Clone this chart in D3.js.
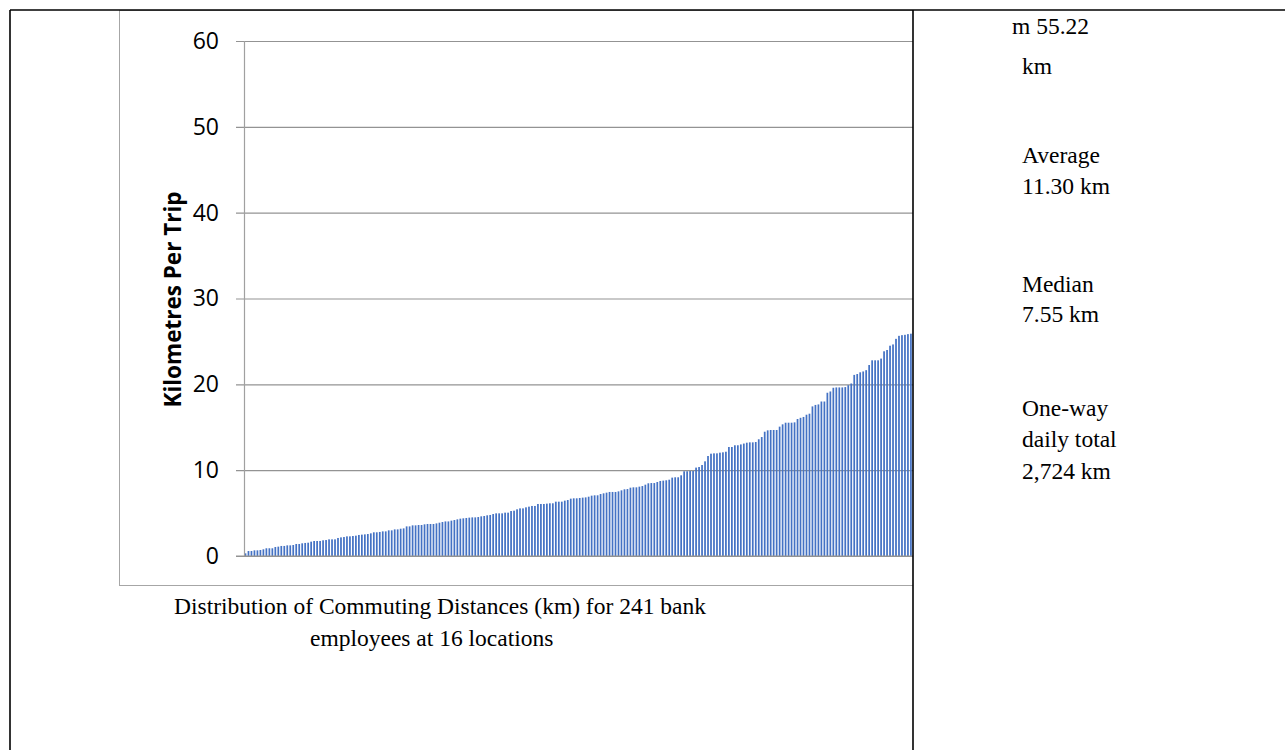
<!DOCTYPE html>
<html>
<head>
<meta charset="utf-8">
<script src="https://cdn.jsdelivr.net/npm/d3@7"></script>
<style>
  html, body { margin: 0; padding: 0; background: #fff; }
  svg { display: block; }
</style>
</head>
<body>
<svg id="fig" width="1285" height="750"></svg>
<script>
// One-way commuting distance (km) of each employee, sorted ascending.
const distances = [
  0.31, 0.58, 0.58, 0.66, 0.66, 0.70, 0.78, 0.90, 0.90, 0.90,
  1.05, 1.09, 1.17, 1.17, 1.24, 1.24, 1.28, 1.40, 1.40, 1.48,
  1.52, 1.55, 1.67, 1.75, 1.75, 1.75, 1.83, 1.86, 1.94, 1.94,
  1.94, 2.10, 2.17, 2.21, 2.29, 2.29, 2.33, 2.37, 2.45, 2.49,
  2.52, 2.56, 2.64, 2.76, 2.76,
  2.80, 2.87, 2.87, 2.99, 2.99, 3.10, 3.10, 3.18, 3.22, 3.45,
  3.45, 3.57, 3.57, 3.61, 3.61, 3.69, 3.73, 3.73, 3.73, 3.80,
  3.88, 3.96, 4.03, 4.03, 4.12, 4.19, 4.27, 4.35, 4.39, 4.43,
  4.47, 4.50, 4.50, 4.54, 4.62, 4.66, 4.74, 4.78, 4.89, 4.97,
  4.97, 4.97, 5.05, 5.05, 5.24, 5.28,
  5.44, 5.55, 5.55, 5.67, 5.75, 5.83, 5.83, 6.06, 6.06, 6.06,
  6.10, 6.14, 6.14, 6.33, 6.33, 6.33, 6.45, 6.52, 6.68, 6.72,
  6.72, 6.76, 6.80, 6.83, 6.91, 7.03, 7.07, 7.07, 7.22, 7.30,
  7.38, 7.46, 7.46, 7.46, 7.53, 7.65, 7.77, 7.80, 7.96, 8.00,
  8.00, 8.08, 8.15, 8.31, 8.47,
  8.50, 8.50, 8.62, 8.74, 8.78, 8.82, 8.89, 9.13, 9.17, 9.17,
  9.40, 9.87, 9.87, 9.90, 9.90, 10.30, 10.37, 10.60, 11.03, 11.65,
  11.92, 11.96, 11.96, 12.04, 12.08, 12.15, 12.70, 12.70, 12.90, 12.90,
  13.00, 13.10, 13.20, 13.24, 13.24, 13.28, 13.60, 13.86, 14.48, 14.64,
  14.68, 14.68, 14.68, 15.07, 15.34, 15.53,
  15.53, 15.53, 15.57, 15.96, 16.10, 16.20, 16.46, 16.58, 17.43, 17.60,
  17.66, 18.00, 18.00, 19.02, 19.17, 19.60, 19.64, 19.64, 19.64, 19.68,
  19.90, 20.10, 21.10, 21.20, 21.40, 21.50, 21.65, 22.25, 22.80, 22.80,
  22.80, 23.00, 23.85, 24.00, 24.50, 24.65, 25.30, 25.65, 25.73, 25.77,
  25.85, 25.90,
  26.40, 27.10, 27.90, 28.60, 29.50, 30.30, 31.20, 32.40, 33.80, 35.00,
  36.50, 38.20, 40.10, 42.70, 45.30, 49.80, 55.22
];

const yTicks = [0, 10, 20, 30, 40, 50, 60];
const yTitle = "Kilometres Per Trip";
const captionLines = [
  "Distribution of Commuting Distances (km) for 241 bank",
  "employees at 16 locations"
];
// Summary notes in the side column: [text, x, baseline y]
const sideNotes = [
  ["m 55.22", 1012, 34],
  ["km", 1022, 74],
  ["Average", 1022, 163],
  ["11.30 km", 1022, 194],
  ["Median", 1022, 292],
  ["7.55 km", 1022, 322],
  ["One-way", 1022, 416],
  ["daily total", 1022, 447],
  ["2,724 km", 1022, 479]
];

const svg = d3.select("#fig");

// The chart sits in a table cell that cuts it off at the column rule.
svg.append("defs").append("clipPath").attr("id", "cell")
  .append("rect").attr("x", 10).attr("y", 10).attr("width", 903).attr("height", 740);

const chart = svg.append("g").attr("clip-path", "url(#cell)");

// Chart area frame
chart.append("rect")
  .attr("x", 119.5).attr("y", 10.5)
  .attr("width", 1000).attr("height", 575)
  .attr("fill", "#fff").attr("stroke", "#a6a6a6").attr("stroke-width", 1);

const plotLeft = 244, plotTop = 41, plotBottom = 556;
const step = 2.984;
const plotRight = plotLeft + distances.length * step;

const y = d3.scaleLinear().domain([0, 60]).range([plotBottom, plotTop]);
const x = d3.scaleBand()
  .domain(d3.range(distances.length))
  .range([plotLeft, plotRight])
  .paddingInner(0.42)
  .paddingOuter(0.21);

// Gridlines with outward tick marks and labels
const grid = chart.append("g")
  .attr("transform", `translate(${plotLeft - 8},0)`)
  .call(d3.axisLeft(y)
    .tickValues(yTicks)
    .tickSizeInner(-(plotRight - plotLeft + 8))
    .tickSizeOuter(0)
    .tickPadding(17)
    .tickFormat(d3.format("d")));
grid.select(".domain").remove();
grid.selectAll(".tick line").attr("stroke", "#939393").attr("stroke-width", 1.2);
grid.selectAll(".tick text")
  .attr("fill", "#000")
  .style("font-family", "'Open Sans', 'Noto Sans', sans-serif")
  .style("font-size", "23px");

// Bars
chart.append("g").selectAll("rect")
  .data(distances)
  .join("rect")
  .attr("x", (d, i) => x(i))
  .attr("width", x.bandwidth())
  .attr("y", d => y(d))
  .attr("height", d => y(0) - y(d))
  .attr("fill", "#4472C4");

// Axis lines
chart.append("line")
  .attr("x1", plotLeft + 0.5).attr("x2", plotLeft + 0.5)
  .attr("y1", y(60)).attr("y2", y(0))
  .attr("stroke", "#a0a0a0").attr("stroke-width", 1.2);
chart.append("line")
  .attr("x1", plotLeft - 8).attr("x2", plotRight)
  .attr("y1", y(0)).attr("y2", y(0))
  .attr("stroke", "#939393").attr("stroke-width", 1.2);

// Y-axis title
chart.append("text")
  .attr("transform", `translate(181,${(plotTop + plotBottom) / 2 + 1}) rotate(-90)`)
  .attr("text-anchor", "middle")
  .style("font-family", "'Open Sans', 'Noto Sans', sans-serif")
  .style("font-weight", "bold")
  .style("font-size", "22.5px")
  .attr("fill", "#000")
  .text(yTitle);

// Caption under the chart
const capStarts = [174, 310];
const capBase = [614, 646];
svg.append("g").selectAll("text")
  .data(captionLines)
  .join("text")
  .attr("x", (d, i) => capStarts[i])
  .attr("y", (d, i) => capBase[i])
  .style("font-family", "'Liberation Serif', 'Times New Roman', serif")
  .style("font-size", "23.5px")
  .attr("fill", "#000")
  .text(d => d);

// Side column notes
svg.append("g").selectAll("text")
  .data(sideNotes)
  .join("text")
  .attr("x", d => d[1])
  .attr("y", d => d[2])
  .style("font-family", "'Liberation Serif', 'Times New Roman', serif")
  .style("font-size", "23.5px")
  .attr("fill", "#000")
  .text(d => d[0]);

// Table rules
const rules = svg.append("g").attr("stroke", "#000").attr("stroke-width", 1.6);
rules.append("line").attr("x1", 10).attr("x2", 1285).attr("y1", 10).attr("y2", 10);
rules.append("line").attr("x1", 10).attr("x2", 10).attr("y1", 10).attr("y2", 750);
rules.append("line").attr("x1", 913).attr("x2", 913).attr("y1", 10).attr("y2", 750);
</script>
</body>
</html>
